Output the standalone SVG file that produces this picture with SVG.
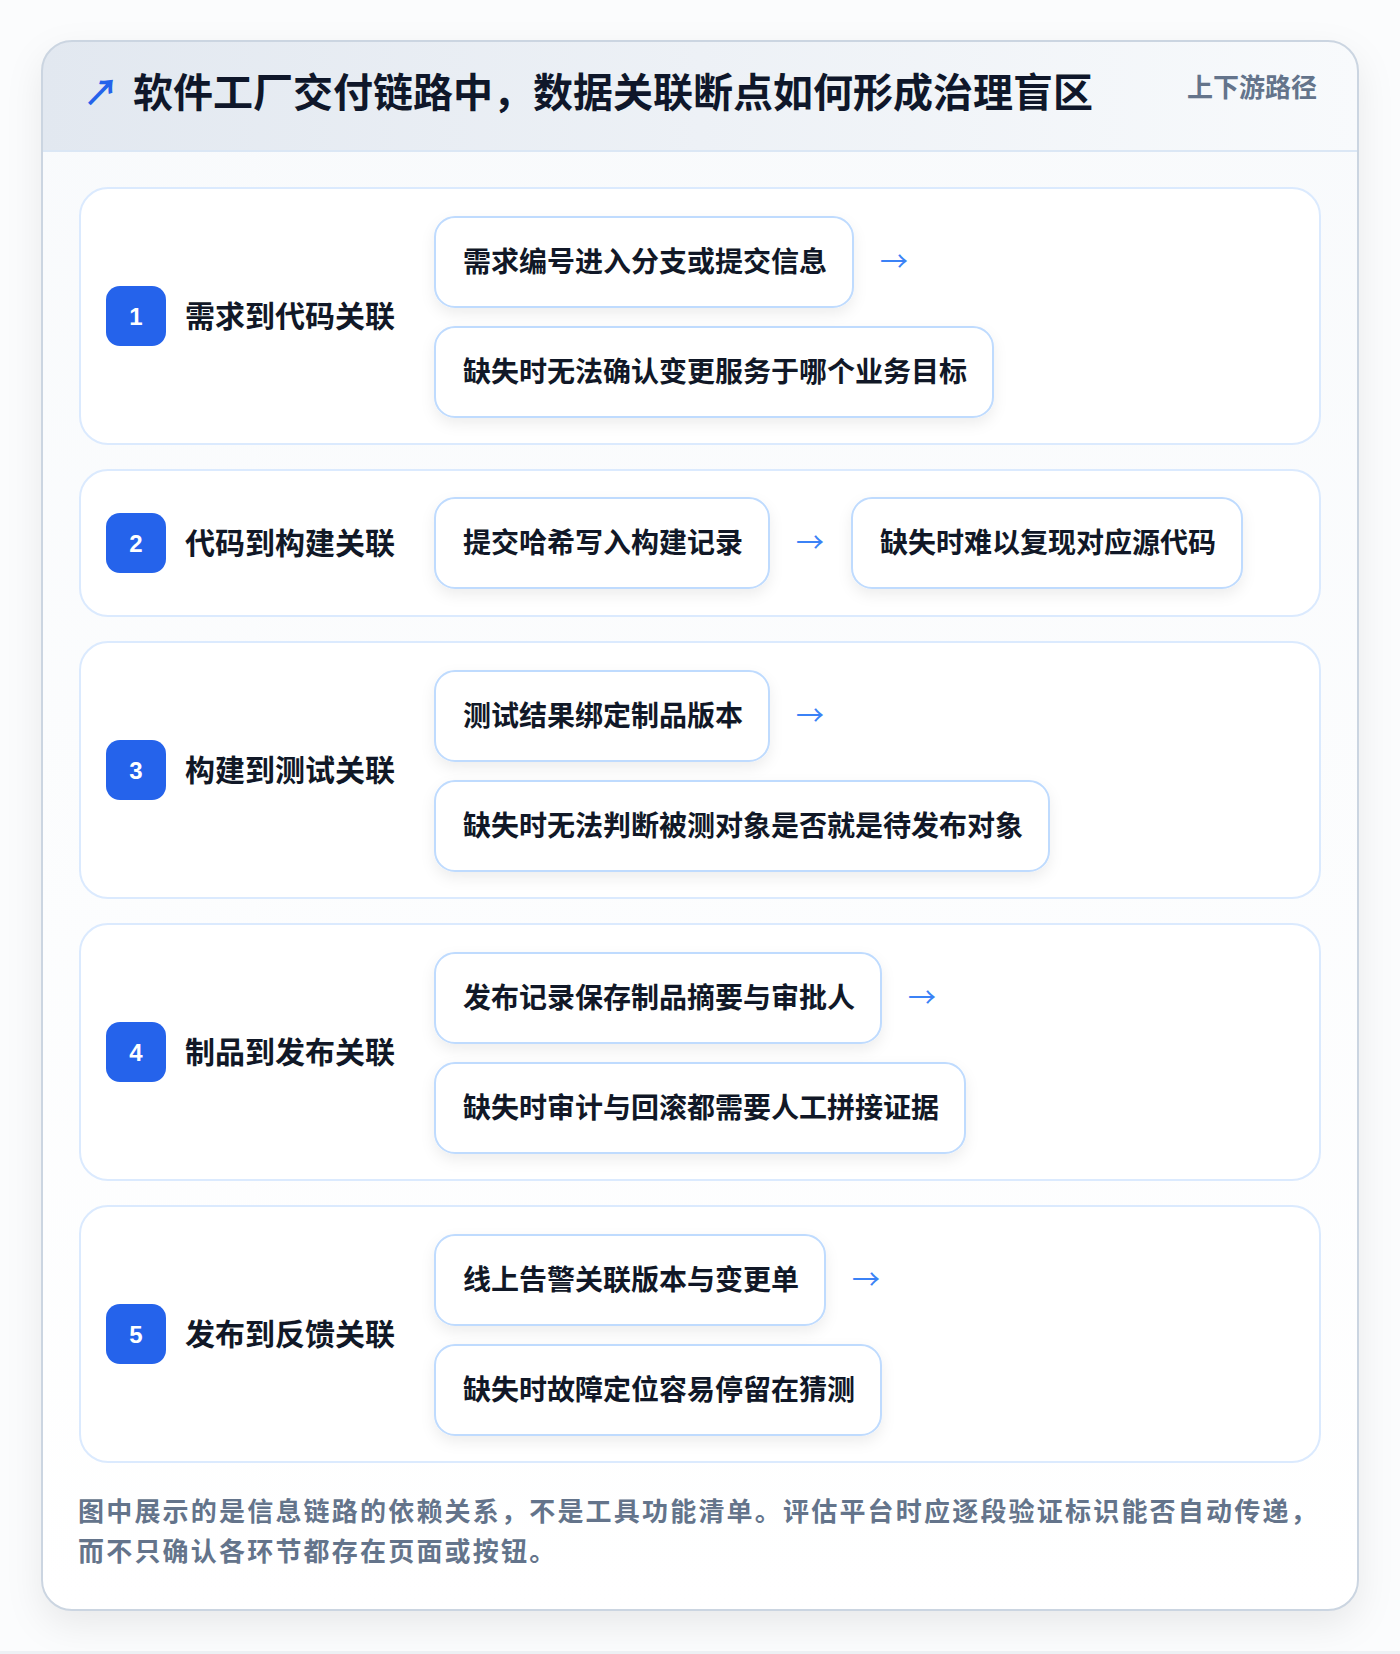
<svg xmlns="http://www.w3.org/2000/svg" width="1400" height="1654" viewBox="0 0 1400 1654">
<defs>
<linearGradient id="hdr" x1="0" y1="0" x2="1" y2="0">
<stop offset="0" stop-color="#e2e8f0"/>
<stop offset="1" stop-color="#f8fafc"/>
</linearGradient>
<linearGradient id="body" x1="0" y1="0" x2="0" y2="1">
<stop offset="0" stop-color="#f8fafc"/>
<stop offset="1" stop-color="#ffffff"/>
</linearGradient>
<filter id="cardShadow" x="-10%" y="-10%" width="120%" height="120%">
<feDropShadow dx="0" dy="14" stdDeviation="18" flood-color="#0f172a" flood-opacity="0.08"/>
</filter>
<filter id="pillShadow" x="-10%" y="-20%" width="120%" height="160%">
<feDropShadow dx="0" dy="6" stdDeviation="7" flood-color="#0f172a" flood-opacity="0.07"/>
</filter>
<clipPath id="cardClip"><rect x="42" y="41" width="1316" height="1569" rx="30"/></clipPath>
<style>
.cjk{font-family:"Noto Sans CJK SC","Noto Sans",sans-serif;}
.title{font-size:40px;font-weight:700;fill:#0f172a;}
.tag{font-size:26px;font-weight:600;fill:#64748b;}
.row{fill:#ffffff;stroke:#dbeafe;stroke-width:2;}
.pill{fill:#ffffff;stroke:#bfdbfe;stroke-width:2;filter:url(#pillShadow);}
.ptxt{font-size:28px;font-weight:700;fill:#111827;}
.lbl{font-size:30px;font-weight:700;fill:#111827;}
.badge{fill:#2563eb;}
.num{font-family:"Liberation Sans","DejaVu Sans",sans-serif;font-size:24px;font-weight:700;fill:#ffffff;}
.arr{font-size:28px;fill:#3b82f6;}
.foot{font-size:26px;font-weight:600;fill:#64748b;letter-spacing:2.2px;}
</style>
</defs>
<rect x="0" y="0" width="1400" height="1654" fill="#fbfcfd"/>
<rect x="0" y="1651" width="1400" height="3" fill="#eef1f5"/>
<g id="card">
<rect x="42" y="41" width="1316" height="1569" rx="30" fill="url(#body)" filter="url(#cardShadow)"/>
<g clip-path="url(#cardClip)">
<rect x="42" y="41" width="1316" height="110" fill="url(#hdr)"/>
<line x1="42" y1="151" x2="1358" y2="151" stroke="#dbe7f5" stroke-width="2"/>
</g>
<rect x="42" y="41" width="1316" height="1569" rx="30" fill="none" stroke="#cbd5e1" stroke-width="2"/>
</g>
<g id="header">
<text class="cjk" x="83" y="106" font-size="36" font-weight="700" fill="#2563eb">↗</text>
<text class="cjk title" x="133" y="107">软件工厂交付链路中，数据关联断点如何形成治理盲区</text>
<text class="cjk tag" x="1317" y="97" text-anchor="end">上下游路径</text>
</g>
<g id="row1">
<rect class="row" x="80" y="188" width="1240" height="256" rx="28"/>
<rect class="badge" x="106" y="286" width="60" height="60" rx="14"/>
<text class="num" x="136" y="325" text-anchor="middle">1</text>
<text class="cjk lbl" x="185" y="327">需求到代码关联</text>
<g id="row1-a"><rect class="pill" x="435" y="217" width="418" height="90" rx="20"/><text class="cjk ptxt" x="463" y="272">需求编号进入分支或提交信息</text></g>
<g id="row1-b"><rect class="pill" x="435" y="327" width="558" height="90" rx="20"/><text class="cjk ptxt" x="463" y="382">缺失时无法确认变更服务于哪个业务目标</text></g>
</g>
<g id="row2">
<rect class="row" x="80" y="470" width="1240" height="146" rx="28"/>
<rect class="badge" x="106" y="513" width="60" height="60" rx="14"/>
<text class="num" x="136" y="552" text-anchor="middle">2</text>
<text class="cjk lbl" x="185" y="554">代码到构建关联</text>
<g id="row2-a"><rect class="pill" x="435" y="498" width="334" height="90" rx="20"/><text class="cjk ptxt" x="463" y="553">提交哈希写入构建记录</text></g>
<g id="row2-b"><rect class="pill" x="852" y="498" width="390" height="90" rx="20"/><text class="cjk ptxt" x="880" y="553">缺失时难以复现对应源代码</text></g>
</g>
<g id="row3">
<rect class="row" x="80" y="642" width="1240" height="256" rx="28"/>
<rect class="badge" x="106" y="740" width="60" height="60" rx="14"/>
<text class="num" x="136" y="779" text-anchor="middle">3</text>
<text class="cjk lbl" x="185" y="781">构建到测试关联</text>
<g id="row3-a"><rect class="pill" x="435" y="671" width="334" height="90" rx="20"/><text class="cjk ptxt" x="463" y="726">测试结果绑定制品版本</text></g>
<g id="row3-b"><rect class="pill" x="435" y="781" width="614" height="90" rx="20"/><text class="cjk ptxt" x="463" y="836">缺失时无法判断被测对象是否就是待发布对象</text></g>
</g>
<g id="row4">
<rect class="row" x="80" y="924" width="1240" height="256" rx="28"/>
<rect class="badge" x="106" y="1022" width="60" height="60" rx="14"/>
<text class="num" x="136" y="1061" text-anchor="middle">4</text>
<text class="cjk lbl" x="185" y="1063">制品到发布关联</text>
<g id="row4-a"><rect class="pill" x="435" y="953" width="446" height="90" rx="20"/><text class="cjk ptxt" x="463" y="1008">发布记录保存制品摘要与审批人</text></g>
<g id="row4-b"><rect class="pill" x="435" y="1063" width="530" height="90" rx="20"/><text class="cjk ptxt" x="463" y="1118">缺失时审计与回滚都需要人工拼接证据</text></g>
</g>
<g id="row5">
<rect class="row" x="80" y="1206" width="1240" height="256" rx="28"/>
<rect class="badge" x="106" y="1304" width="60" height="60" rx="14"/>
<text class="num" x="136" y="1343" text-anchor="middle">5</text>
<text class="cjk lbl" x="185" y="1345">发布到反馈关联</text>
<g id="row5-a"><rect class="pill" x="435" y="1235" width="390" height="90" rx="20"/><text class="cjk ptxt" x="463" y="1290">线上告警关联版本与变更单</text></g>
<g id="row5-b"><rect class="pill" x="435" y="1345" width="446" height="90" rx="20"/><text class="cjk ptxt" x="463" y="1400">缺失时故障定位容易停留在猜测</text></g>
</g>
<g id="connectors">
<text class="cjk arr" x="880" y="272">→</text>
<text class="cjk arr" x="796" y="553">→</text>
<text class="cjk arr" x="796" y="726">→</text>
<text class="cjk arr" x="908" y="1008">→</text>
<text class="cjk arr" x="852" y="1290">→</text>
</g>
<g id="footer">
<text class="cjk foot" x="78" y="1521">图中展示的是信息链路的依赖关系，不是工具功能清单。评估平台时应逐段验证标识能否自动传递，</text>
<text class="cjk foot" x="78" y="1561">而不只确认各环节都存在页面或按钮。</text>
</g>
</svg>
